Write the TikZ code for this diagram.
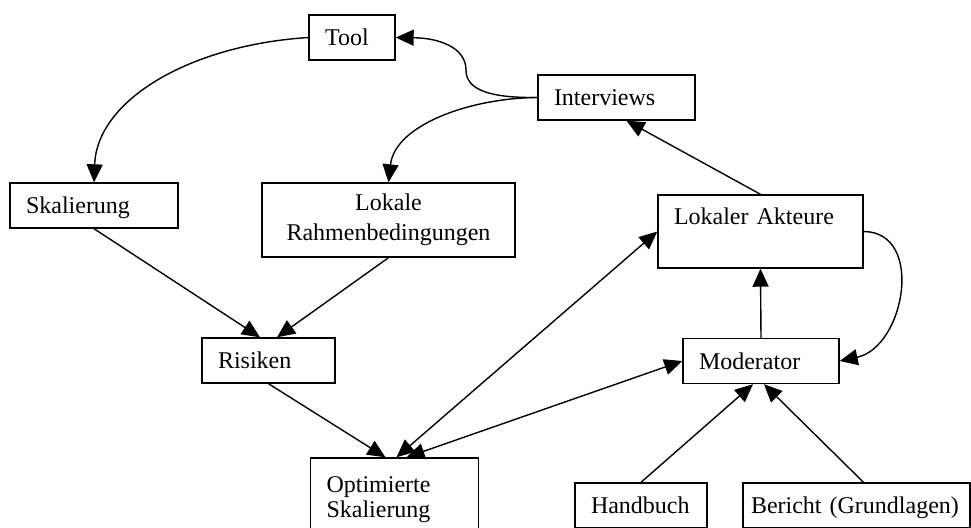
\documentclass[tikz,border=0pt]{standalone}
\usepackage{fontspec}
\setmainfont{Liberation Serif}
\usetikzlibrary{arrows.meta}
\tikzset{
	kasten/.style={draw, line width=0.7pt, rectangle, align=left, inner xsep=8pt, inner ysep=0pt, minimum height=22.5pt, font=\fontsize{12}{15}\selectfont},
	zeile/.style={kasten, text height=9.5pt, text depth=1.5pt},
	pfeil/.style={line width=0.7pt, -{Triangle[length=9pt,width=8pt]}},
	doppelpfeil/.style={line width=0.7pt, {Triangle[length=9pt,width=8pt]}-{Triangle[length=9pt,width=8pt]}},
}
\begin{document}
\begin{tikzpicture}[x=0.5pt, y=-0.5pt]
	\useasboundingbox (0,0) rectangle (971,527);
	\node [zeile, text width=27pt] (tool) at (352,37.5) {Tool};
	\node [zeile, text width=62.5pt] (int) at (616.5,97.5) {Interviews};
	\node [zeile, text width=68pt] (skal) at (94,205.5) {Skalierung};
	\node [kasten, text width=110.5pt, align=center, minimum height=37pt] (lokal) at (388.5,220) {Lokale\\Rahmenbedingungen};
	\node [kasten, text width=86.5pt, minimum height=36.5pt] (akt) at (760.5,231.5) {Lokaler Akteure\\~};
	\node [zeile, text width=50.5pt] (ris) at (268.5,360.5) {Risiken};
	\node [zeile, text width=62pt] (mod) at (761,361) {Moderator};
	\node [kasten, text width=68pt, minimum height=42pt, font=\fontsize{12}{12.5}\selectfont] (opt) at (394.5,500) {Optimierte\\Skalierung};
	\node [zeile, text width=50pt] (hand) at (641,505.5) {Handbuch};
	\node [zeile, text width=105.5pt, inner xsep=4pt] (ber) at (856.5,505.5) {\mbox{Bericht (Grundlagen)}};
	\coordinate (knick) at (466,70);

	\draw [pfeil] (tool.west) .. controls (190,45) and (97,100) .. (skal.north);
	\draw [pfeil] (int.west) .. controls (490,98) and (466,90) .. (knick) .. controls (466,48) and (440,38) .. (tool.east);
	\draw [pfeil] (int.west) .. controls (470,98) and (395,125) .. (lokal.north);
	\draw [pfeil] (akt.north) -- ([xshift=5pt]int.south);
	\draw [pfeil] (skal.south) -- ([xshift=-4.25pt]ris.north);
	\draw [pfeil] (lokal.south) -- ([xshift=4.25pt]ris.north);
	\draw [pfeil] (ris.south) -- ([xshift=-4.5pt]opt.north);
	\draw [doppelpfeil] ([xshift=1pt]opt.north) -- (akt.west);
	\draw [doppelpfeil] ([xshift=6pt]opt.north) -- (mod.west);
	\draw [pfeil] (mod.north) -- (akt.south);
	\draw [pfeil] (akt.east) .. controls (925,232) and (905,347) .. (mod.east);
	\draw [pfeil] (hand.north) -- ([xshift=-4pt]mod.south);
	\draw [pfeil] ([xshift=3.5pt]ber.north) -- ([xshift=1.5pt]mod.south);
\end{tikzpicture}
\end{document}
